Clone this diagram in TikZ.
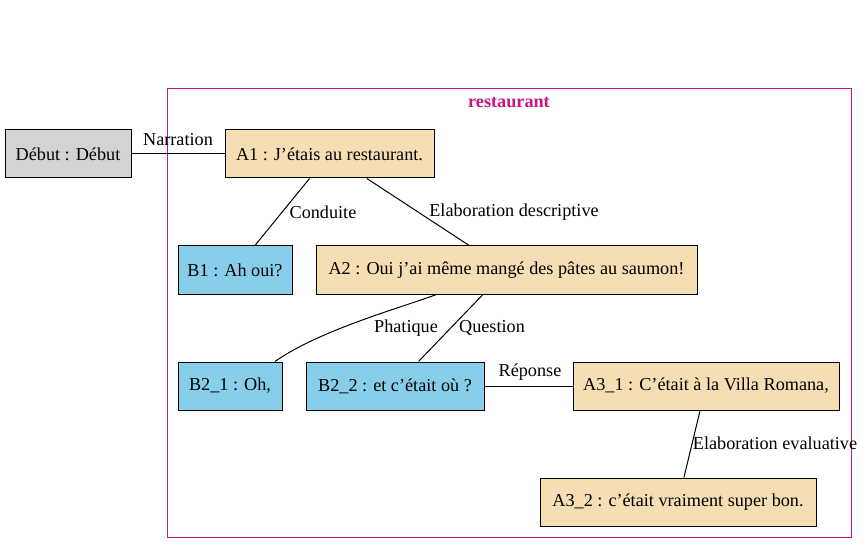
\documentclass[tikz,border=0pt]{standalone}
\usepackage{fontspec}
\setmainfont{Liberation Serif}
\definecolor{wheatc}{HTML}{F5DEB3}
\definecolor{skyc}{HTML}{87CEEB}
\definecolor{greyc}{HTML}{D3D3D3}
\definecolor{clusterc}{HTML}{C71585}
\tikzset{
  box/.style={draw=black, line width=1pt, rectangle, inner sep=0pt, anchor=center,
    font=\fontsize{18.2}{21}\selectfont},
  abox/.style={box, fill=wheatc},
  bbox/.style={box, fill=skyc},
  dbox/.style={box, fill=greyc},
  lbl/.style={inner sep=0pt, font=\fontsize{18.2}{21}\selectfont},
  edge/.style={draw=black, line width=1pt},
}
\begin{document}
\begin{tikzpicture}[x=1pt,y=-1pt]
\useasboundingbox (0,0) rectangle (867,553);
% cluster
\node[draw=clusterc, line width=1pt, minimum width=684pt, minimum height=448pt, inner sep=0pt] (cluster) at (509,313) {};
\node[lbl, text=clusterc, font=\fontsize{18.2}{21}\selectfont\bfseries] (ctitle) at (509,102) {restaurant};
% nodes
\node[dbox, minimum width=126pt, minimum height=48pt] (deb) at (68,154) {Début : Début};
\node[abox, minimum width=209pt, minimum height=48pt] (A1) at (329.5,154) {A1 : J’étais au restaurant.};
\node[bbox, minimum width=114pt, minimum height=48pt] (B1) at (235,270) {B1 : Ah oui?};
\node[abox, minimum width=381pt, minimum height=48pt] (A2) at (506.5,270) {A2 : Oui j’ai même mangé des pâtes au saumon!};
\node[bbox, minimum width=104pt, minimum height=48pt] (B21) at (230,386) {B2\_1 : Oh,};
\node[bbox, minimum width=178pt, minimum height=48pt] (B22) at (395,386) {B2\_2 : et c’était où ?};
\node[abox, minimum width=266pt, minimum height=48pt] (A31) at (706,386) {A3\_1 : C’était à la Villa Romana,};
\node[abox, minimum width=276pt, minimum height=48pt] (A32) at (678,502) {A3\_2 : c’était vraiment super bon.};
% edges
\draw[edge] (deb) -- (A1);
\draw[edge] (A1) -- (B1);
\draw[edge] (A1) -- (A2);
\draw[edge] ([xshift=-70pt]A2.south) .. controls (400,308) and (320,330) .. ([xshift=45pt]B21.north);
\draw[edge] (A2) -- (B22);
\draw[edge] (B22) -- (A31);
\draw[edge] (A31) -- (A32);
% labels
\node[lbl] (lNarr) at (178,140) {Narration};
\node[lbl] (lCond) at (323,212) {Conduite};
\node[lbl] (lElabD) at (514,212) {Elaboration descriptive};
\node[lbl] (lPhat) at (406,328) {Phatique};
\node[lbl] (lQuest) at (492,328) {Question};
\node[lbl] (lRep) at (530,372) {Réponse};
\node[lbl] (lElabE) at (775,443) {Elaboration evaluative};
\end{tikzpicture}
\end{document}
